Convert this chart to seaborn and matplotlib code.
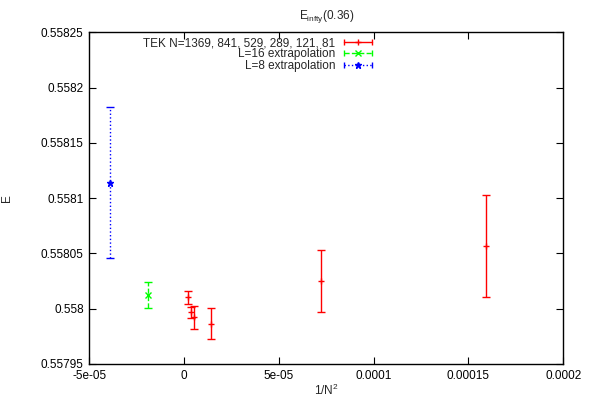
import matplotlib
matplotlib.use("Agg")
import matplotlib.pyplot as plt
from matplotlib.lines import Line2D
from matplotlib.legend_handler import HandlerLine2D, HandlerTuple
import seaborn as sns

# ---- data ----
tek_x = [2.3e-6, 3.7e-6, 5.3e-6, 1.41e-5, 7.23e-5, 1.59e-4]
tek_y = [0.5580103, 0.5579968, 0.5579922, 0.5579865, 0.5580251, 0.5580565]
tek_err = [5.9e-6, 5.0e-6, 1.04e-5, 1.40e-5, 2.84e-5, 4.61e-5]

l16_x = [-1.89e-5]
l16_y = [0.5580124]
l16_err = [1.2e-5]

l8_x = [-3.93e-5]
l8_y = [0.558114]
l8_err = [6.8e-5]

labels = ["TEK N=1369, 841, 529, 289, 121, 81", "L=16 extrapolation", "L=8 extrapolation"]
xticks = [-5e-05, 0, 5e-05, 0.0001, 0.00015, 0.0002]
xticklabels = ["-5e-05", "0", "5e-05", "0.0001", "0.00015", "0.0002"]
yticks = [0.55795, 0.558, 0.55805, 0.5581, 0.55815, 0.5582, 0.55825]
yticklabels = ["0.55795", "0.558", "0.55805", "0.5581", "0.55815", "0.5582", "0.55825"]

sns.set_theme(style="ticks")
plt.rcParams['font.family'] = ['Liberation Sans', 'DejaVu Sans']
plt.rcParams['mathtext.fontset'] = 'custom'
plt.rcParams['mathtext.rm'] = 'Liberation Sans'

fig = plt.figure(figsize=(5.98, 3.99), dpi=100)
ax = fig.add_axes([89.3 / 598, 35 / 399, (563.3 - 89.3) / 598, (364 - 32.3) / 399])

fs = 8.5
series = [
    (tek_x, tek_y, tek_err, "#ff0000", "+", "-", labels[0]),
    (l16_x, l16_y, l16_err, "#00ff00", "x", "--", labels[1]),
    (l8_x, l8_y, l8_err, "#0000ff", "*", ":", labels[2]),
]
handles = []
hmap = {}
for x, y, e, c, m, ls, lab in series:
    eb = ax.errorbar(x, y, yerr=e, fmt=m, color=c, ecolor=c, elinewidth=1.0,
                     capsize=3, capthick=1.0, markersize=5, markeredgewidth=1.0,
                     linestyle="none")
    eb[2][0].set_linestyle(ls)
    capline = Line2D([], [], color=c, linestyle=ls, linewidth=1.0, marker="|",
                     markersize=5, markeredgewidth=1.0)
    midline = Line2D([], [], color=c, linestyle="none", marker=m, markersize=5,
                     markeredgewidth=1.0)
    hmap[capline] = HandlerLine2D(numpoints=2)
    hmap[midline] = HandlerLine2D(numpoints=1)
    handles.append((capline, midline))
hmap[tuple] = HandlerTuple(ndivide=1, pad=0.0)

ax.set_xlim(-5e-05, 0.0002)
ax.set_ylim(0.55795, 0.55825)
ax.set_xticks(xticks)
ax.set_xticklabels(xticklabels, fontsize=fs)
ax.set_yticks(yticks)
ax.set_yticklabels(yticklabels, fontsize=fs)
ax.tick_params(direction="in", length=5, width=0.8, top=True, right=True,
               labeltop=False, labelright=False, colors="black", pad=4)
for s in ax.spines.values():
    s.set_color("black")
    s.set_linewidth(1.0)

ax.set_xlabel(r"1/N$^2$", fontsize=fs, labelpad=1)
ax.set_ylabel("E", fontsize=fs)
ax.yaxis.set_label_coords((13 - 89.3) / 474, 0.5)
ax.set_title(r"E$_{\rm infty}$(0.36)", fontsize=fs, pad=10)

leg = ax.legend(handles, labels, handler_map=hmap, loc="upper right",
                bbox_to_anchor=(0.613, 1.0), markerfirst=False,
                frameon=False, fontsize=fs, handlelength=2.9, handletextpad=0.5,
                labelspacing=-0.05, borderpad=0.4, borderaxespad=0.0)

fig.savefig("out.png", dpi=100)
